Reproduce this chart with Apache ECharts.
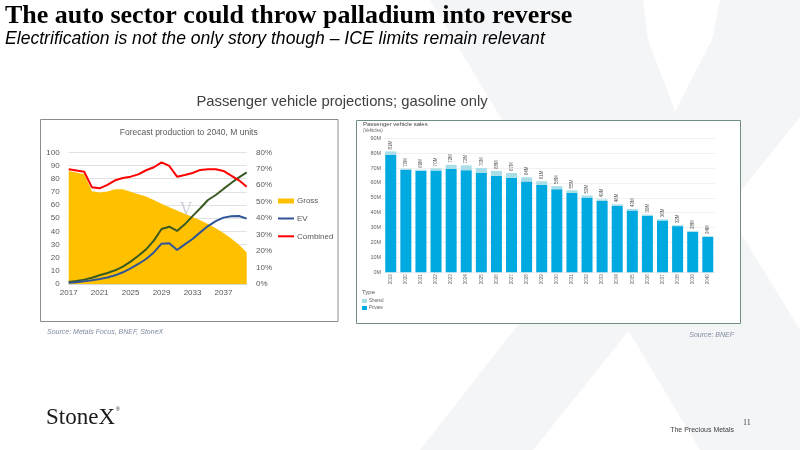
<!DOCTYPE html>
<html>
<head>
<meta charset="utf-8">
<script src="https://cdn.jsdelivr.net/npm/echarts@6/dist/echarts.min.js"></script>
<style>
html,body{margin:0;padding:0;background:#fff;}
#c{width:800px;height:450px;}
</style>
</head>
<body>
<div id="c"></div>
<script>
// ---- Left chart: Forecast production to 2040, M units ----
const prodYears = ['2017','2018','2019','2020','2021','2022','2023','2024','2025','2026','2027','2028','2029','2030','2031','2032','2033','2034','2035','2036','2037','2038','2039','2040'];
const gross    = [85.8,84.6,83.4,70.5,69.5,70.3,71.9,71.9,70.1,68.2,66.4,63.8,61.0,58.3,55.8,53.3,50.8,48.4,45.5,42.3,38.8,34.5,29.8,24.0];
const iceLine  = [1.5,2.3,3.3,4.8,6.6,8.4,10.4,13.2,17.0,21.5,26.3,32.9,41.8,43.5,40.3,45.3,51.5,57.5,63.8,67.6,72.2,76.7,81.0,84.8];
const ev       = [1.0,1.3,2.0,2.8,3.8,5.0,6.6,8.9,11.9,15.2,19.0,24.0,30.6,30.9,25.8,30.1,34.2,39.2,44.0,47.8,50.4,51.4,51.6,49.6];
const combined = [69.7,69.0,68.2,58.7,58.1,60.2,63.0,64.4,65.2,66.6,69.1,70.9,73.9,71.7,65.2,66.2,67.4,69.3,69.7,69.7,68.7,65.8,63.0,59.1];

// ---- Right chart: Passenger vehicle sales (Vehicles), millions ----
const salesYears = ['2019','2020','2021','2022','2023','2024','2025','2026','2027','2028','2029','2030','2031','2032','2033','2034','2035','2036','2037','2038','2039','2040'];
const privateSales = [78.9,68.8,68.2,68.3,69.4,68.6,66.7,64.8,63.5,61.0,58.8,55.8,53.3,50.2,47.9,44.6,41.5,37.9,34.8,31.0,27.2,23.7];
const sharedSales  = [2.3,0.8,0.7,1.5,2.8,3.2,3.4,3.3,3.2,2.8,2.3,2.1,1.7,1.4,1.1,1.1,1.0,0.9,0.8,0.6,0.6,0.6];

const SANS = '"Liberation Sans", Arial, sans-serif';
const chart = echarts.init(document.getElementById('c'), null, {renderer:'canvas'});

function txt(x, y, text, font, fill, align, z){
  return {type:'text', x:x, y:y, z: z||100,
    style:{text:text, font:font, fill:fill, textAlign:align||'left', align:align||'left', textVerticalAlign:'middle', verticalAlign:'middle'}};
}

const totals = privateSales.map((p,i)=>Math.round(p+sharedSales[i]));

const option = {
  backgroundColor:'#ffffff',
  animation:false,
  textStyle:{fontFamily:SANS},
  grid:[
    {left:68.7, right:553.3, top:152.3, bottom:166},
    {left:383.2, right:84.65, top:138.3, bottom:177.7}
  ],
  xAxis:[
    {gridIndex:0, type:'category', data:prodYears, boundaryGap:false, z:5,
     axisLine:{lineStyle:{color:'#d9d9d9', width:1}}, axisTick:{show:false},
     axisLabel:{interval:3, fontSize:8, color:'#595959', margin:5}},
    {gridIndex:1, type:'category', data:salesYears, z:5,
     axisLine:{show:false}, axisTick:{show:false},
     axisLabel:{interval:0, rotate:90, fontSize:4.5, color:'#666666', margin:2}}
  ],
  yAxis:[
    {gridIndex:0, type:'value', min:0, max:100, interval:10, z:5,
     axisLine:{show:false}, axisTick:{show:false},
     axisLabel:{fontSize:8, color:'#595959', margin:9},
     splitLine:{lineStyle:{color:'#d9d9d9', width:0.8}}},
    {gridIndex:0, type:'value', position:'right', min:0, max:80, interval:10, z:5,
     axisLine:{show:false}, axisTick:{show:false},
     axisLabel:{fontSize:8, color:'#595959', margin:9.3, formatter:'{value}%'},
     splitLine:{show:false}},
    {gridIndex:1, type:'value', min:0, max:90, interval:10, z:5,
     axisLine:{show:false}, axisTick:{show:false},
     axisLabel:{fontSize:5.5, color:'#666666', margin:2, formatter:'{value}M'},
     splitLine:{lineStyle:{color:'#eeeeee', width:0.8}}}
  ],
  legend:[
    {data:[{name:'Gross', icon:'rect'}], left:278, top:197, padding:0, itemWidth:16, itemHeight:5, itemGap:0,
     textStyle:{fontSize:8, color:'#595959', padding:[0,0,0,-2]}, selectedMode:false},
    {data:[{name:'EV', icon:'rect'}], left:278, top:214.5, padding:0, itemWidth:16, itemHeight:2,
     textStyle:{fontSize:8, color:'#595959', padding:[0,0,0,-2]}, selectedMode:false},
    {data:[{name:'Combined', icon:'rect'}], left:278, top:232.3, padding:0, itemWidth:16, itemHeight:2,
     textStyle:{fontSize:8, color:'#595959', padding:[0,0,0,-2]}, selectedMode:false},
    {data:[{name:'Shared', icon:'rect'}], left:362, top:298.5, padding:0, itemWidth:5, itemHeight:4,
     textStyle:{fontSize:4.5, color:'#666666', padding:[0,0,0,-3]}, selectedMode:false},
    {data:[{name:'Private', icon:'rect'}], left:362, top:305.5, padding:0, itemWidth:5, itemHeight:4,
     textStyle:{fontSize:4.5, color:'#666666', padding:[0,0,0,-3]}, selectedMode:false}
  ],
  series:[
    {name:'Gross', type:'line', xAxisIndex:0, yAxisIndex:0, data:gross, symbol:'none', z:6,
     color:'#ffc000', lineStyle:{width:0}, areaStyle:{color:'#ffc000', opacity:1}},
    {name:'ICE', type:'line', xAxisIndex:0, yAxisIndex:0, data:iceLine, symbol:'none', z:7,
     color:'#3a5a22', lineStyle:{width:2, color:'#3a5a22'}},
    {name:'EV', type:'line', xAxisIndex:0, yAxisIndex:0, data:ev, symbol:'none', z:8,
     color:'#2f5597', lineStyle:{width:2, color:'#2f5597'}},
    {name:'Combined', type:'line', xAxisIndex:0, yAxisIndex:1, data:combined, symbol:'none', z:9,
     color:'#ff0000', lineStyle:{width:2, color:'#ff0000'}},
    {name:'Private', type:'bar', xAxisIndex:1, yAxisIndex:2, stack:'sales', data:privateSales, barWidth:11, z:6,
     color:'#00a9e0', itemStyle:{color:'#00a9e0'}},
    {name:'Shared', type:'bar', xAxisIndex:1, yAxisIndex:2, stack:'sales', data:sharedSales, barWidth:11, z:6,
     color:'#a9dde8', itemStyle:{color:'#a9dde8'},
     label:{show:true, position:'top', rotate:90, align:'left', verticalAlign:'middle', distance:2,
            fontSize:4.5, color:'#555555', formatter:(p)=>totals[p.dataIndex]+'M'}}
  ],
  graphic:[
    // background watermark X
    {type:'polygon', z:0, shape:{points:[[430,0],[643,0],[648,40],[690,150],[800,330],[800,450],[700,450]]}, style:{fill:'#f4f5f7'}},
    {type:'polygon', z:0, shape:{points:[[720,0],[800,0],[800,117],[533,450],[420,450],[655,150],[712,40]]}, style:{fill:'#f4f5f7'}},
    // chart boxes
    {type:'rect', z:1, shape:{x:40.5, y:119.5, width:297.5, height:202}, style:{fill:'#ffffff', stroke:'#8c8c8c', lineWidth:1}},
    {type:'rect', z:1, shape:{x:356.5, y:120.5, width:384, height:203}, style:{fill:'#ffffff', stroke:'#6f8e7e', lineWidth:1}},
    // slide titles
    txt(5, 16, 'The auto sector could throw palladium into reverse', 'bold 26px "Liberation Serif", serif', '#000000'),
    txt(5, 39, 'Electrification is not the only story though \u2013 ICE limits remain relevant', 'italic 17.6px ' + SANS, '#000000'),
    txt(342, 102, 'Passenger vehicle projections; gasoline only', '14.8px ' + SANS, '#404040', 'center'),
    // left chart texts
    txt(188.7, 132.3, 'Forecast production to 2040, M units', '8.5px ' + SANS, '#595959', 'center'),
    txt(186, 210, 'V', '18px "Liberation Serif", serif', 'rgba(170,178,192,0.6)', 'center', 50),
    // right chart texts
    txt(363, 124.7, 'Passenger vehicle sales', '6px ' + SANS, '#444444'),
    txt(363, 130.3, '(Vehicles)', '4.5px ' + SANS, '#666666'),
    txt(362, 292, 'Type', '6px ' + SANS, '#555555'),
    // sources & footer
    txt(47, 332.5, 'Source: Metals Focus, BNEF, StoneX', 'italic 7px ' + SANS, '#7f8ca0'),
    txt(734, 335, 'Source: BNEF', 'italic 7px ' + SANS, '#7f8ca0', 'right'),
    txt(46, 418, 'StoneX', '23px "Liberation Serif", serif', '#1a1a1a'),
    txt(116, 410, '\u00ae', '5px ' + SANS, '#1a1a1a'),
    txt(734, 430, 'The Precious Metals', '7px ' + SANS, '#404040', 'right'),
    txt(743, 423, '11', '8px "Liberation Serif", serif', '#404040')
  ]
};
chart.setOption(option);
</script>
</body>
</html>
